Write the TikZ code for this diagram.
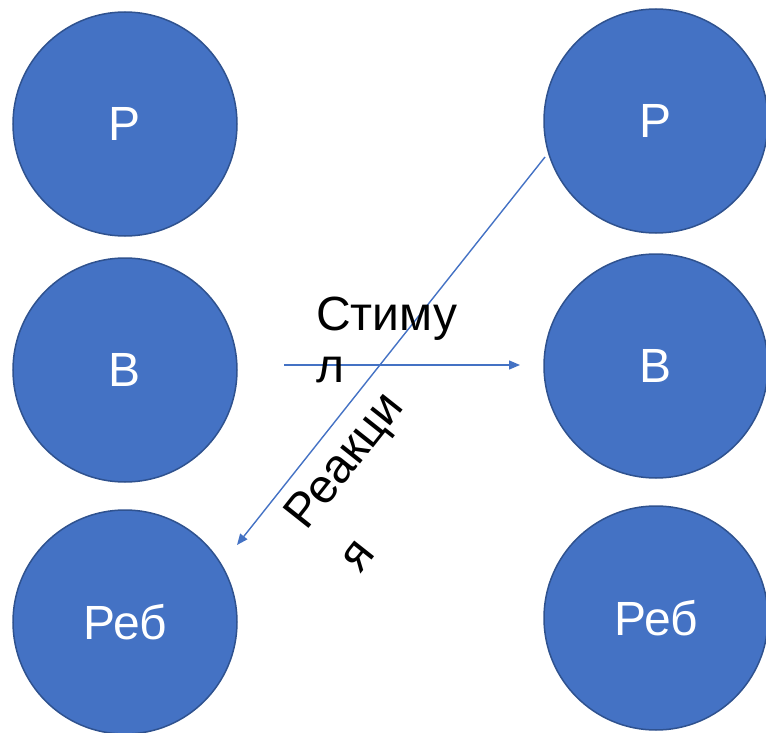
\documentclass[tikz,border=0pt]{standalone}
\usepackage{fontspec}
\setmainfont{Liberation Sans}
\usetikzlibrary{arrows.meta}
\definecolor{cfill}{HTML}{4472C4}
\definecolor{cedge}{HTML}{2F528F}
\tikzset{
  ball/.style={circle, fill=cfill, draw=cedge, line width=1.5pt, minimum size=224pt, inner sep=0pt, text=white, font=\fontsize{48}{52}\selectfont},
  conn/.style={draw=cfill, line width=1.4pt, -{Triangle[length=11pt,width=9pt]}},
  lbl/.style={font=\fontsize{48}{50}\selectfont, align=left, inner sep=0pt, text=black}
}
\begin{document}
\begin{tikzpicture}[x=1pt,y=-1pt]
\useasboundingbox (0,0) rectangle (766,733);
\node[ball] (l1) at (125,124) {Р};
\node[ball] (l2) at (125,370) {В};
\node[ball] (l3) at (125,622) {Реб};
\node[ball] (r1) at (656,121) {Р};
\node[ball] (r2) at (656,366) {В};
\node[ball] (r3) at (656,618) {Реб};
\coordinate (h1) at (284,365);
\coordinate (h2) at (520,365);
\coordinate (d1) at (545,157);
\coordinate (d2) at (237,545);
\draw[conn] (h1) -- (h2);
\draw[conn] (d1) -- (d2);
\node[lbl, anchor=north west] (stim) at (316,297) {Стиму\\[2pt]л};
\node[lbl, rotate=51.6, anchor=center] (reak) at (370,481) {Реакци\\[19pt]я};
\end{tikzpicture}
\end{document}
